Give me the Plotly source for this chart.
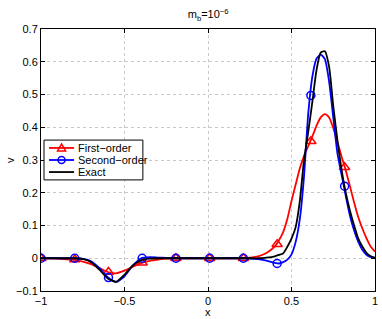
import plotly.graph_objects as go

# x grid (coarse on the left, finer around the pulse)
x_coarse = [-1.0, -0.95, -0.9, -0.85, -0.8, -0.75, -0.7, -0.65, -0.6, -0.55, -0.5, -0.45, -0.4, -0.35,
            -0.3, -0.25, -0.2, -0.15, -0.1, -0.05, 0.0, 0.05, 0.1, 0.15, 0.2, 0.25, 0.3, 0.35, 0.4]
x_fine = [0.425, 0.45, 0.475, 0.5, 0.525, 0.55, 0.575, 0.6, 0.625, 0.65, 0.675, 0.7, 0.725, 0.75,
          0.775, 0.8, 0.825, 0.85, 0.875, 0.9, 0.925, 0.95, 0.975, 1.0]
x_curve = x_coarse + x_fine

exact = [0, 0, 0, 0, 0, -0.002, -0.012, -0.035, -0.062, -0.072, -0.05, -0.022, -0.006, -0.001,
         0, 0, 0, 0, 0, 0, 0, 0, 0, 0, 0, 0, 0, 0.002, 0.006,
         0.01, 0.015, 0.035, 0.06, 0.095, 0.175, 0.3, 0.385, 0.478, 0.575, 0.628, 0.632, 0.585, 0.465,
         0.36, 0.27, 0.2, 0.145, 0.1, 0.06, 0.035, 0.016, 0.006, 0.002]
second = [0, 0, 0, 0, 0, -0.002, -0.009, -0.03, -0.058, -0.072, -0.055, -0.022, 0.0, 0.003,
          0.002, 0.001, 0, 0, 0, 0, 0, 0, 0, 0, 0, -0.001, -0.003, -0.007, -0.014,
          -0.016, -0.012, -0.004, 0.012, 0.05, 0.12, 0.25, 0.44, 0.555, 0.61, 0.622, 0.608, 0.54, 0.43,
          0.32, 0.255, 0.19, 0.13, 0.085, 0.05, 0.025, 0.01, 0.003, 0.0]
first = [0, 0, -0.001, -0.003, -0.005, -0.01, -0.018, -0.03, -0.042, -0.046, -0.038, -0.026, -0.015, -0.008,
         -0.004, -0.001, 0, 0, 0, 0, 0, 0, 0, 0, 0, 0.002, 0.006, 0.016, 0.036,
         0.055, 0.08, 0.12, 0.175, 0.225, 0.275, 0.312, 0.342, 0.372, 0.405, 0.43, 0.44, 0.43, 0.398,
         0.355, 0.31, 0.268, 0.22, 0.17, 0.125, 0.09, 0.06, 0.035, 0.02]

# marker positions and values
x_mark = [-1.0, -0.798, -0.596, -0.394, -0.192, 0.010, 0.212, 0.414, 0.616, 0.818]
first_mark = [0, -0.004, -0.042, -0.014, 0, 0, 0, 0.043, 0.357, 0.278]
second_mark = [0, 0, -0.059, 0.0, 0, 0, 0, -0.016, 0.497, 0.22]

x_ticks = [-1, -0.5, 0, 0.5, 1]
x_ticktext = ["\u22121", "\u22120.5", "0", "0.5", "1"]
y_ticks = [-0.1, 0, 0.1, 0.2, 0.3, 0.4, 0.5, 0.6, 0.7]
y_ticktext = ["\u22120.1", "0", "0.1", "0.2", "0.3", "0.4", "0.5", "0.6", "0.7"]

legend_names = ["First\u2212order", "Second\u2212order", "Exact"]
legend_colors = ["#ff0000", "#0000ff", "#000000"]
legend_symbols = ["triangle", "circle", ""]

RED = "#ff0000"
BLUE = "#0000ff"
BLACK = "#000000"
LW = 1.8
FONT = "Liberation Sans, Arial, sans-serif"

fig = go.Figure()
fig.add_trace(go.Scatter(x=x_curve, y=first, mode="lines", line=dict(color=RED, width=LW, shape="spline", smoothing=0.6),
                         name=legend_names[0], showlegend=False, hoverinfo="skip"))
fig.add_trace(go.Scatter(x=x_mark, y=first_mark, mode="markers",
                         marker=dict(symbol="triangle-up-open", size=9, color=RED, line=dict(width=1.5, color=RED)),
                         showlegend=False))
fig.add_trace(go.Scatter(x=x_curve, y=second, mode="lines", line=dict(color=BLUE, width=LW, shape="spline", smoothing=0.6),
                         name=legend_names[1], showlegend=False, hoverinfo="skip"))
fig.add_trace(go.Scatter(x=x_mark, y=second_mark, mode="markers",
                         marker=dict(symbol="circle-open", size=8, color=BLUE, line=dict(width=1.5, color=BLUE)),
                         showlegend=False))
fig.add_trace(go.Scatter(x=x_curve, y=exact, mode="lines", line=dict(color=BLACK, width=LW, shape="spline", smoothing=0.6),
                         name=legend_names[2], showlegend=False, hoverinfo="skip"))

axis_common = dict(
    showgrid=True, gridcolor="#c8c8c8", griddash="dot", gridwidth=1,
    zeroline=False, showline=True, linecolor="black", linewidth=1, mirror="ticks",
    ticks="inside", ticklen=4, tickcolor="black", automargin=False,
    tickfont=dict(family=FONT, size=11, color="black"),
)

# compact legend box (MATLAB-style), in paper coordinates
leg_x0, leg_x1, leg_y0, leg_y1 = 0.009, 0.305, 0.424, 0.576
row_y = [0.546, 0.5, 0.454]
sym_cx = 0.0615
shapes = [dict(type="rect", xref="paper", yref="paper", x0=leg_x0, x1=leg_x1, y0=leg_y0, y1=leg_y1,
               line=dict(color="black", width=1), fillcolor="white", layer="above")]
annotations = []
for name, col, sym, ry in zip(legend_names, legend_colors, legend_symbols, row_y):
    shapes.append(dict(type="line", xref="paper", yref="paper", x0=0.024, x1=0.099, y0=ry, y1=ry,
                       line=dict(color=col, width=LW), layer="above"))
    annotations.append(dict(text=name, xref="paper", yref="paper", x=0.106, y=ry, xanchor="left",
                            yanchor="middle", showarrow=False, font=dict(size=11, color="black")))
    if sym == "triangle":
        path = (f"M {sym_cx:.4f},{ry + 0.0153:.4f} L {sym_cx + 0.012:.4f},{ry - 0.0115:.4f} "
                f"L {sym_cx - 0.012:.4f},{ry - 0.0115:.4f} Z")
        shapes.append(dict(type="path", xref="paper", yref="paper", path=path,
                           line=dict(color=col, width=1.5), fillcolor="rgba(0,0,0,0)", layer="above"))
    elif sym == "circle":
        shapes.append(dict(type="circle", xref="paper", yref="paper",
                           x0=sym_cx - 0.0105, x1=sym_cx + 0.0105, y0=ry - 0.0134, y1=ry + 0.0134,
                           line=dict(color=col, width=1.5), fillcolor="rgba(0,0,0,0)", layer="above"))

annotations += [
    dict(text="x", xref="paper", yref="paper", x=0.5, y=-0.082, xanchor="center", yanchor="middle",
         showarrow=False, font=dict(size=11, color="black")),
    dict(text="v", xref="paper", yref="paper", x=-0.093, y=0.5, xanchor="center", yanchor="middle",
         textangle=-90, showarrow=False, font=dict(size=11, color="black")),
]

fig.update_layout(
    width=382, height=319,
    margin=dict(l=41, r=7, t=29, b=28, autoexpand=False),
    paper_bgcolor="white", plot_bgcolor="white",
    font=dict(family=FONT, size=11, color="black"),
    title=dict(text="m<sub>b</sub>=10<sup>\u22126</sup>", x=0.545, xanchor="center", y=0.955, yanchor="middle",
               font=dict(size=11, color="black")),
    xaxis=dict(range=[-1, 1], tickvals=x_ticks, ticktext=x_ticktext, **axis_common),
    yaxis=dict(range=[-0.1, 0.7], tickvals=y_ticks, ticktext=y_ticktext, **axis_common),
    showlegend=False,
    shapes=shapes,
    annotations=annotations,
)

fig.write_html("out.html", config={"displayModeBar": False},
               post_script="document.body.style.margin='0';document.body.style.padding='0';")
